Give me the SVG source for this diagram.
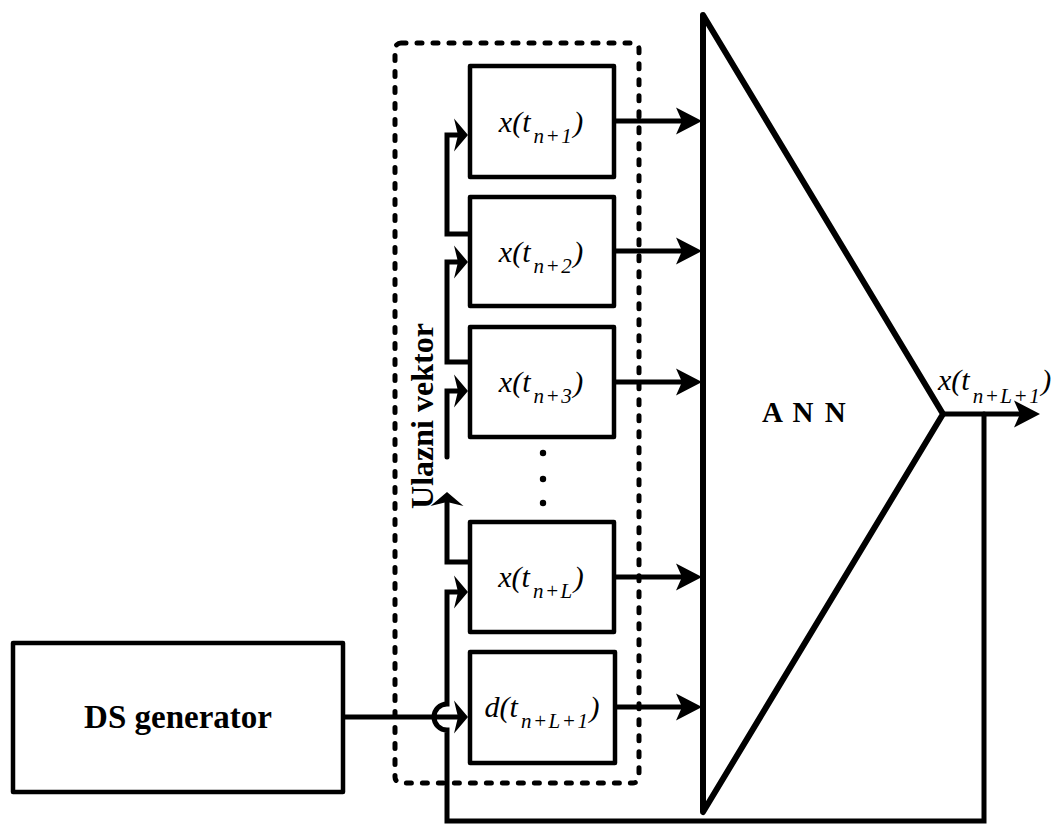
<svg xmlns="http://www.w3.org/2000/svg" width="1054" height="825" viewBox="0 0 1054 825">
<style>
.box{fill:#fff;stroke:#000;stroke-width:4.5;stroke-linejoin:round}
.ln{fill:none;stroke:#000;stroke-width:5;stroke-linecap:round;stroke-linejoin:miter}
.lbl{font-family:"Liberation Serif","Times New Roman",serif;font-style:italic;font-size:30px;fill:#000}
.sub{font-size:21px;letter-spacing:1.5px}
.bold{font-family:"Liberation Serif","Times New Roman",serif;font-weight:bold;fill:#000}
</style>
<defs>
<path id="ahs" d="M0,0 L-14,-16.5 L-10,0 L-14,16.5 Z" fill="#000"/>
<path id="ahl" d="M0,0 L-26,-13.5 L-20,0 L-26,13.5 Z" fill="#000"/>
</defs>
<rect x="395" y="43" width="244" height="740" rx="6" fill="none" stroke="#000" stroke-width="5" stroke-dasharray="5 11" stroke-linecap="round"/>
<g id="connectors">
<path class="ln" d="M614,121 L690,121"/>
<use href="#ahl" transform="translate(702,121)"/>
<path class="ln" d="M614,251 L690,251"/>
<use href="#ahl" transform="translate(702,251)"/>
<path class="ln" d="M614,382 L690,382"/>
<use href="#ahl" transform="translate(702,382)"/>
<path class="ln" d="M614,577 L690,577"/>
<use href="#ahl" transform="translate(702,577)"/>
<path class="ln" d="M614,707 L690,707"/>
<use href="#ahl" transform="translate(702,707)"/>
<path class="ln" d="M470,234 L447,234 L447,135 L458,135"/>
<use href="#ahs" transform="translate(468,135)"/>
<path class="ln" d="M470,362 L447,362 L447,262 L458,262"/>
<use href="#ahs" transform="translate(468,262)"/>
<path class="ln" d="M447,457 L447,391 L458,391"/>
<use href="#ahs" transform="translate(468,391)"/>
<path class="ln" d="M470,562 L447,562 L447,502"/>
<use href="#ahs" transform="translate(447,492) rotate(-90)"/>
<path class="ln" d="M343,717 L458,717"/>
<use href="#ahs" transform="translate(468,717)"/>
<path class="ln" d="M943,414 L1025,414"/>
<use href="#ahl" transform="translate(1040,414)"/>
<path class="ln" d="M984,414 L984,821 L447,821 L447,730 A13,13 0 0 1 447,704 L447,592 L458,592"/>
<use href="#ahs" transform="translate(468,592)"/>
<circle cx="543" cy="453" r="3.2"/>
<circle cx="543" cy="479" r="3.2"/>
<circle cx="543" cy="503" r="3.2"/>
</g>
<g id="ds">
<rect class="box" x="13" y="643" width="330" height="149" stroke-width="5"/>
<text class="bold" x="178" y="728" font-size="33" text-anchor="middle">DS generator</text>
</g>
<g id="x1">
<rect class="box" x="470" y="66" width="144" height="111"/>
<text class="lbl" x="541" y="132" text-anchor="middle">x(t<tspan class="sub" dx="3" dy="11">n+1</tspan><tspan dy="-11">)</tspan></text>
</g>
<g id="x2">
<rect class="box" x="470" y="197" width="144" height="109"/>
<text class="lbl" x="541" y="262" text-anchor="middle">x(t<tspan class="sub" dx="3" dy="11">n+2</tspan><tspan dy="-11">)</tspan></text>
</g>
<g id="x3">
<rect class="box" x="470" y="327" width="144" height="110"/>
<text class="lbl" x="541" y="392" text-anchor="middle">x(t<tspan class="sub" dx="3" dy="11">n+3</tspan><tspan dy="-11">)</tspan></text>
</g>
<g id="xL">
<rect class="box" x="470" y="522" width="144" height="110"/>
<text class="lbl" x="541" y="587" text-anchor="middle">x(t<tspan class="sub" dx="3" dy="11">n+L</tspan><tspan dy="-11">)</tspan></text>
</g>
<g id="d">
<rect class="box" x="470" y="652" width="145" height="111"/>
<text class="lbl" x="542" y="717" text-anchor="middle">d(t<tspan class="sub" dx="3" dy="11">n+L+1</tspan><tspan dy="-11">)</tspan></text>
</g>
<g id="ann">
<path d="M703,15 L943,414 L703,812 Z" fill="none" stroke="#000" stroke-width="6" stroke-linejoin="round"/>
<text class="bold" x="762" y="422" font-size="29" word-spacing="4">A N N</text>
</g>
<g id="out">
<text class="lbl" x="938" y="390">x(t<tspan class="sub" dx="3" dy="13">n+L+1</tspan><tspan dy="-13">)</tspan></text>
</g>
<g id="label">
<text class="bold" font-size="32" text-anchor="middle" transform="translate(433,416) rotate(-90)">Ulazni vektor</text>
</g>
</svg>
